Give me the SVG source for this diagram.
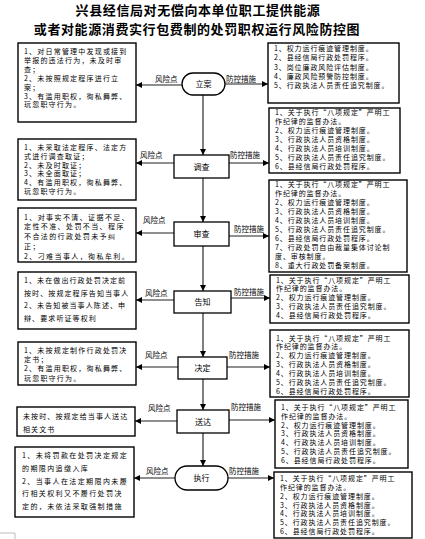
<svg xmlns="http://www.w3.org/2000/svg" width="425" height="539" viewBox="0 0 425 539">
<defs>
<marker id="ah" markerUnits="userSpaceOnUse" markerWidth="7" markerHeight="7" refX="6" refY="3.5" orient="auto">
<path d="M0,0.5 L6,3.5 L0,6.5 Z" fill="#000"/>
</marker>
</defs>
<style>
text{font-family:"Noto Sans CJK SC","Noto Sans",sans-serif;fill:#000}
.title{font-size:13px;font-weight:700;text-anchor:middle;letter-spacing:0.6px}
.lt{font-size:7px;letter-spacing:1.2px}
.lt2{letter-spacing:1.4px}
.lt3{letter-spacing:1.1px}
.rt{font-size:7px;letter-spacing:0.9px}
.nl{font-size:8px;text-anchor:middle}
.cl{font-size:7.5px}
.box{fill:#fff;stroke:#000;stroke-width:1.4}
.node{fill:#fff;stroke:#000;stroke-width:1.3}
.v{stroke:#7f7f7f;stroke-width:2;fill:none}
.h{stroke:#6a6a6a;stroke-width:1.4;fill:none}
</style>
<rect width="425" height="539" fill="#fff"/>
<text class="title" x="198" y="15">兴县经信局对无偿向本单位职工提供能源</text>
<text class="title" x="197" y="34">或者对能源消费实行包费制的处罚职权运行风险防控图</text>

<g id="connectors">
<line class="v" x1="203" y1="95" x2="203" y2="155" marker-end="url(#ah)"/>
<line class="v" x1="203" y1="178" x2="203" y2="222" marker-end="url(#ah)"/>
<line class="v" x1="203" y1="246" x2="203" y2="291" marker-end="url(#ah)"/>
<line class="v" x1="203" y1="313" x2="203" y2="357" marker-end="url(#ah)"/>
<line class="v" x1="203" y1="379" x2="203" y2="410" marker-end="url(#ah)"/>
<line class="v" x1="203" y1="433" x2="203" y2="466" marker-end="url(#ah)"/>

<line class="h" x1="182" y1="85" x2="136" y2="85" marker-end="url(#ah)"/>
<line class="h" x1="174" y1="163" x2="136" y2="163" marker-end="url(#ah)"/>
<line class="h" x1="174" y1="233" x2="136" y2="233" marker-end="url(#ah)"/>
<line class="h" x1="174" y1="300" x2="136" y2="300" marker-end="url(#ah)"/>
<line class="h" x1="178" y1="367" x2="136" y2="367" marker-end="url(#ah)"/>
<line class="h" x1="177" y1="421" x2="135" y2="421" marker-end="url(#ah)"/>
<line class="h" x1="175" y1="478" x2="134" y2="478" marker-end="url(#ah)"/>

<line class="h" x1="225" y1="84" x2="268" y2="84" marker-end="url(#ah)"/>
<line class="h" x1="229" y1="163" x2="269" y2="163" marker-end="url(#ah)"/>
<line class="h" x1="229" y1="236" x2="269" y2="236" marker-end="url(#ah)"/>
<line class="h" x1="231" y1="298" x2="270" y2="298" marker-end="url(#ah)"/>
<line class="h" x1="227" y1="367" x2="270" y2="367" marker-end="url(#ah)"/>
<line class="h" x1="229" y1="420" x2="275" y2="420" marker-end="url(#ah)"/>
<line class="h" x1="228" y1="478" x2="274" y2="478" marker-end="url(#ah)"/>

<text class="cl" x="155" y="82">风险点</text>
<text class="cl" x="140" y="158">风险点</text>
<text class="cl" x="143" y="223">风险点</text>
<text class="cl" x="145" y="296">风险点</text>
<text class="cl" x="145" y="358">风险点</text>
<text class="cl" x="148" y="411">风险点</text>
<text class="cl" x="146" y="474">风险点</text>

<text class="cl" x="226" y="82">防控措施</text>
<text class="cl" x="230" y="158">防控措施</text>
<text class="cl" x="234" y="232">防控措施</text>
<text class="cl" x="234" y="295">防控措施</text>
<text class="cl" x="229" y="358">防控措施</text>
<text class="cl" x="231" y="410">防控措施</text>
<text class="cl" x="229" y="474">防控措施</text>
</g>

<g id="n-lian"><rect class="node" x="182" y="73" width="43" height="22" rx="11"/><text class="nl" x="203.5" y="87">立案</text></g>
<g id="n-diaocha"><rect class="node" x="174" y="155" width="55" height="23"/><text class="nl" x="201.5" y="169.5">调查</text></g>
<g id="n-shencha"><rect class="node" x="174" y="222" width="55" height="24"/><text class="nl" x="201.5" y="237">审查</text></g>
<g id="n-gaozhi"><rect class="node" x="174" y="291" width="57" height="22"/><text class="nl" x="202.5" y="305">告知</text></g>
<g id="n-jueding"><rect class="node" x="178" y="357" width="49" height="22"/><text class="nl" x="202.5" y="371">决定</text></g>
<g id="n-songda"><rect class="node" x="177" y="410" width="52" height="23"/><text class="nl" x="203" y="424.5">送达</text></g>
<g id="n-zhixing"><rect class="node" x="175" y="466" width="53" height="24" rx="12"/><text class="nl" x="201.5" y="481">执行</text></g>

<g id="risk-lian"><rect class="box" x="18" y="43" width="118" height="79"/>
<text class="lt"><tspan x="24" y="54">1、对日常管理中发现或接到</tspan><tspan x="24" y="62.9">举报的违法行为，未及时审</tspan><tspan x="24" y="71.8">查；</tspan><tspan x="24" y="80.7">2、未按照规定程序进行立</tspan><tspan x="24" y="89.6">案；</tspan><tspan x="24" y="98.5">3、有滥用职权，徇私舞弊、</tspan><tspan x="24" y="107.4">玩忽职守行为。</tspan></text></g>

<g id="risk-diaocha"><rect class="box" x="18" y="139" width="118" height="61"/>
<text class="lt"><tspan x="24" y="149.7">1、未采取法定程序、法定方</tspan><tspan x="24" y="158.6">式进行调查取证；</tspan><tspan x="24" y="167.5">2、未及时取证；</tspan><tspan x="24" y="176.4">3、未全面取证；</tspan><tspan x="24" y="185.3">4、有滥用职权，徇私舞弊、</tspan><tspan x="24" y="194.2">玩忽职守行为。</tspan></text></g>

<g id="risk-shencha"><rect class="box" x="18" y="208" width="118" height="54"/>
<text class="lt lt2"><tspan x="24" y="219.7">1、对事实不清、证据不足、</tspan><tspan x="24" y="229.4">定性不准、处罚不当、程序</tspan><tspan x="24" y="239.2">不合法的行政处罚未予纠</tspan><tspan x="24" y="248.9">正；</tspan><tspan x="24" y="258.5">2、刁难当事人，徇私牟利。</tspan></text></g>

<g id="risk-gaozhi"><rect class="box" x="18" y="272" width="118" height="57"/>
<text class="lt lt3"><tspan x="24" y="283">1、未在做出行政处罚决定前</tspan><tspan x="24" y="295.7">按时、按规定程序告知当事人</tspan><tspan x="24" y="308.4">2、未告知被当事人陈述、申</tspan><tspan x="24" y="321">辩、要求听证等权利</tspan></text></g>

<g id="risk-jueding"><rect class="box" x="18" y="342" width="118" height="43"/>
<text class="lt"><tspan x="24" y="353">1、未按规定制作行政处罚决</tspan><tspan x="24" y="362.2">定书；</tspan><tspan x="24" y="371.4">2、有滥用职权，徇私舞弊、</tspan><tspan x="24" y="380.6">玩忽职守行为。</tspan></text></g>

<g id="risk-songda"><rect class="box" x="17" y="407" width="118" height="29"/>
<text class="lt lt3"><tspan x="23" y="419">未按时、按规定给当事人送达</tspan><tspan x="23" y="432.3">相关文书</tspan></text></g>

<g id="risk-zhixing"><rect class="box" x="15" y="447" width="119" height="70"/>
<text class="lt lt2"><tspan x="22" y="458">1、未将罚款在处罚决定规定</tspan><tspan x="22" y="470.8">的期限内追缴入库</tspan><tspan x="22" y="483.5">2、当事人在法定期限内未履</tspan><tspan x="22" y="496.3">行相关权利又不履行处罚决</tspan><tspan x="22" y="509">定的，未依法采取强制措施</tspan></text></g>

<g id="ctrl-lian"><rect class="box" x="268" y="43" width="131" height="60"/>
<text class="rt"><tspan x="274" y="51">1、权力运行痕迹管理制度。</tspan><tspan x="274" y="60.4">2、县经信局行政处罚程序。</tspan><tspan x="274" y="69.7">3、岗位廉政风险评估制度。</tspan><tspan x="274" y="79">4、廉政风险预警防控制度。</tspan><tspan x="274" y="88.4">5、行政执法人员责任追究制度。</tspan></text></g>

<g id="ctrl-diaocha"><rect class="box" x="269" y="108" width="131" height="65"/>
<text class="rt"><tspan x="275" y="115.3">1、关于执行“八项规定”严明工</tspan><tspan x="275" y="124.2">作纪律的监督办法。</tspan><tspan x="275" y="133.1">2、权力运行痕迹管理制度。</tspan><tspan x="275" y="142">3、行政执法人员资格制度。</tspan><tspan x="275" y="150.9">4、行政执法人员培训制度。</tspan><tspan x="275" y="159.8">5、行政执法人员责任追究制度。</tspan><tspan x="275" y="168.7">6、县经信局行政处罚程序。</tspan></text></g>

<g id="ctrl-shencha"><rect class="box" x="269" y="180" width="138" height="92"/>
<text class="rt"><tspan x="275" y="187.3">1、关于执行“八项规定”严明工</tspan><tspan x="275" y="196.3">作纪律的监督办法。</tspan><tspan x="275" y="205.3">2、权力运行痕迹管理制度。</tspan><tspan x="275" y="214.3">3、行政执法人员资格制度。</tspan><tspan x="275" y="223.3">4、行政执法人员培训制度。</tspan><tspan x="275" y="232.3">5、行政执法人员责任追究制度。</tspan><tspan x="275" y="241.3">6、县经信局行政处罚程序。</tspan><tspan x="275" y="250.3">7、行政处罚自由裁量集体讨论制</tspan><tspan x="275" y="259.3">度、审核制度。</tspan><tspan x="275" y="268.3">8、重大行政处罚备案制度。</tspan></text></g>

<g id="ctrl-gaozhi"><rect class="box" x="270" y="275" width="139" height="48"/>
<text class="rt"><tspan x="276" y="282.5">1、关于执行“八项规定”严明工</tspan><tspan x="276" y="291.4">作纪律的监督办法。</tspan><tspan x="276" y="300.3">2、权力运行痕迹管理制度。</tspan><tspan x="276" y="309.2">3、行政执法人员责任追究制度。</tspan><tspan x="276" y="318.1">4、县经信局行政处罚程序。</tspan></text></g>

<g id="ctrl-jueding"><rect class="box" x="270" y="330" width="139" height="67"/>
<text class="rt"><tspan x="276" y="340.5">1、关于执行“八项规定”严明工</tspan><tspan x="276" y="349.4">作纪律的监督办法。</tspan><tspan x="276" y="358.3">2、权力运行痕迹管理制度。</tspan><tspan x="276" y="367.2">3、行政执法人员资格制度。</tspan><tspan x="276" y="376.1">4、行政执法人员培训制度。</tspan><tspan x="276" y="385">5、行政执法人员责任追究制度。</tspan><tspan x="276" y="393.9">6、县经信局行政处罚程序。</tspan></text></g>

<g id="ctrl-songda"><rect class="box" x="275" y="400" width="133" height="68"/>
<text class="rt"><tspan x="281" y="409.7">1、关于执行“八项规定”严明工</tspan><tspan x="281" y="418.6">作纪律的监督办法。</tspan><tspan x="281" y="427.5">2、权力运行痕迹管理制度。</tspan><tspan x="281" y="436.4">3、行政执法人员资格制度。</tspan><tspan x="281" y="445.3">4、行政执法人员培训制度。</tspan><tspan x="281" y="454.2">5、行政执法人员责任追究制度。</tspan><tspan x="281" y="463.1">6、县经信局行政处罚程序。</tspan></text></g>

<g id="ctrl-zhixing"><rect class="box" x="274" y="472" width="138" height="66"/>
<text class="rt"><tspan x="280" y="480.8">1、关于执行“八项规定”严明工</tspan><tspan x="280" y="489.7">作纪律的监督办法。</tspan><tspan x="280" y="498.6">2、权力运行痕迹管理制度。</tspan><tspan x="280" y="507.5">3、行政执法人员资格制度。</tspan><tspan x="280" y="516.4">4、行政执法人员培训制度。</tspan><tspan x="280" y="525.3">5、行政执法人员责任追究制度。</tspan><tspan x="280" y="534.2">6、县经信局行政处罚程序。</tspan></text></g>

<polyline points="0,533 15,533 15,539" fill="none" stroke="#bbb" stroke-width="1"/>
</svg>
